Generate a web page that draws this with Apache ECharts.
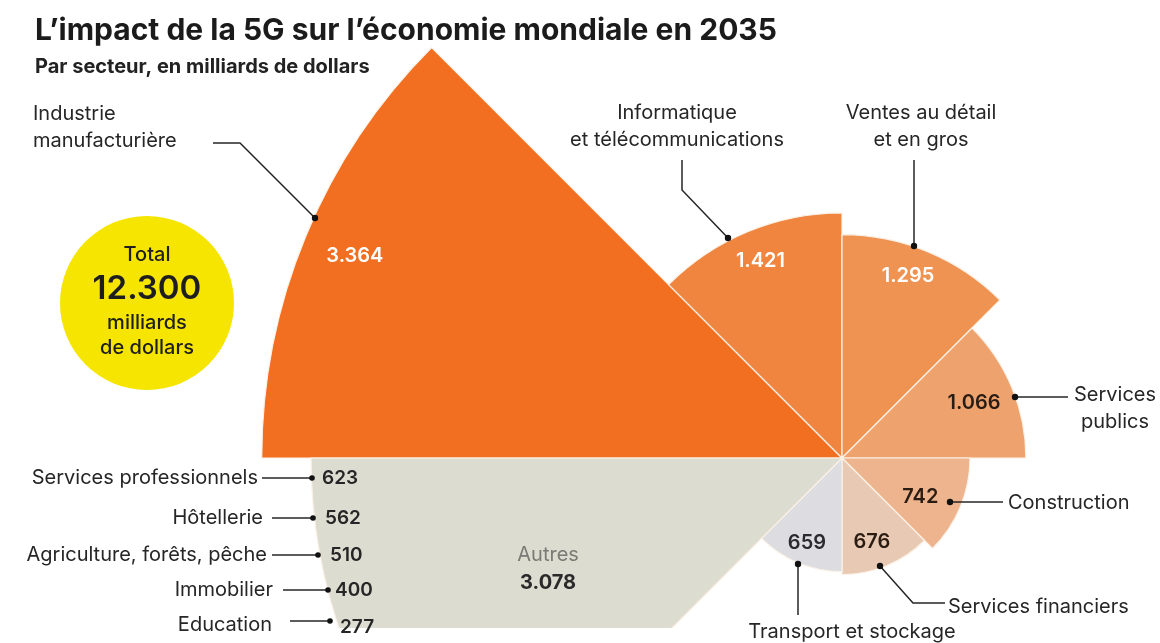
<!DOCTYPE html>
<html><head><meta charset="utf-8">
<script src="https://cdn.jsdelivr.net/npm/echarts@6/dist/echarts.min.js"></script>
<style>html,body{margin:0;padding:0;background:#fff}#c{width:1160px;height:643px}</style>
</head><body><div id="c"></div>
<script>
// ---- data ----
const categories = ['Industrie\nmanufacturière', 'Informatique\net télécommunications', 'Ventes au détail\net en gros', 'Services\npublics', 'Construction', 'Services financiers', 'Transport et stockage', 'Autres'];
const values = [3364, 1421, 1295, 1066, 742, 676, 659, 3078];
const otherCategories = ['Services professionnels', 'Hôtellerie', 'Agriculture, forêts, pêche', 'Immobilier', 'Education'];
const otherValues = [623, 562, 510, 400, 277];
const totalValue = 12300;
const titleText = 'L’impact de la 5G sur l’économie mondiale en 2035';
const subtitleText = 'Par secteur, en milliards de dollars';

// ---- style ----
const FONT = 'Inter, "Open Sans", sans-serif';
const colors = ['#F26F21', '#EF853F', '#EF9352', '#EEA36E', '#EDB48D', '#E8CAB4', '#DCDCE1', '#DDDCD1'];
const labelColors = ['#fff', '#fff', '#fff', '#2a1c12', '#2a1c12', '#2a1c12', '#2a2a30', '#2a2a2a'];
const labelDist = [53, 32, 30, 41, 40, 28, 22, 228];
const labelOffset = [[0, 0], [0, 0], [-8, -3], [0, 0], [-3, 5], [-4, 2], [0, 0], [-14, -6]];
const fmt = v => String(v).replace(/\B(?=(\d{3})+(?!\d))/g, '.');
const center = [842, 458];

// annotation layout (positions only)
const annLayout = [
  {x: 33, y: 127, align: 'left', line: [[213, 143], [240, 143], [315, 218]]},
  {x: 677, y: 126.5, align: 'center', line: [[682, 160], [682, 190], [728, 238]]},
  {x: 921, y: 126.5, align: 'center', line: [[914, 160], [914, 246]]},
  {x: 1115, y: 408.5, align: 'center', line: [[1068, 397], [1015, 397]]},
  {x: 1008, y: 503, align: 'left', line: [[1003, 502], [950, 502]]},
  {x: 948, y: 607, align: 'left', line: [[945, 603], [913, 603], [880, 566]]},
  {x: 852, y: 632, align: 'center', line: [[798, 615], [798, 564]]}
];
const subRows = [
  {y: 478, ty: 478, tr: 258, ls: 262, dot: 312, vx: 322, vy: 478},
  {y: 518, ty: 518, tr: 263, ls: 272, dot: 313, vx: 325, vy: 518},
  {y: 555, ty: 555, tr: 267, ls: 272, dot: 318, vx: 330, vy: 555},
  {y: 590, ty: 590, tr: 273, ls: 283, dot: 328, vx: 335, vy: 590},
  {y: 621, ty: 625, tr: 272, ls: 290, dot: 330, vx: 340, vy: 627}
];

const graphics = [];
// clip rectangle for the bottom of the "Autres" sector
graphics.push({type: 'rect', z: 50, shape: {x: 0, y: 628, width: 760, height: 20}, style: {fill: '#fff'}});
// total bubble
graphics.push({type: 'circle', z: 60, shape: {cx: 147, cy: 303, r: 87}, style: {fill: '#F6E500'}});
const bubbleTexts = [
  {t: 'Total', y: 255, f: '500 20px ' + FONT},
  {t: fmt(totalValue), y: 289, f: '600 33px ' + FONT},
  {t: 'milliards', y: 323, f: '500 20px ' + FONT},
  {t: 'de dollars', y: 348, f: '500 20px ' + FONT}
];
bubbleTexts.forEach(b => graphics.push({type: 'text', z: 61, style: {x: 147, y: b.y, text: b.t, font: b.f, fill: '#1e1e1e', align: 'center', verticalAlign: 'middle'}}));

annLayout.forEach((a, i) => {
  graphics.push({type: 'text', z: 70, style: {x: a.x, y: a.y, text: categories[i], font: '20px ' + FONT, lineHeight: 27, fill: '#262626', align: a.align, verticalAlign: 'middle'}});
  graphics.push({type: 'polyline', z: 70, shape: {points: a.line}, style: {stroke: '#262626', lineWidth: 1.5, fill: null}});
  const d = a.line[a.line.length - 1];
  graphics.push({type: 'circle', z: 71, shape: {cx: d[0], cy: d[1], r: 3.2}, style: {fill: '#111'}});
});

subRows.forEach((r, i) => {
  graphics.push({type: 'text', z: 70, style: {x: r.tr, y: r.ty, text: otherCategories[i], font: '20px ' + FONT, fill: '#262626', align: 'right', verticalAlign: 'middle'}});
  graphics.push({type: 'polyline', z: 70, shape: {points: [[r.ls, r.y], [r.dot, r.y]]}, style: {stroke: '#262626', lineWidth: 1.5, fill: null}});
  graphics.push({type: 'circle', z: 71, shape: {cx: r.dot, cy: r.y, r: 2.8}, style: {fill: '#111'}});
  graphics.push({type: 'text', z: 70, style: {x: r.vx, y: r.vy, text: String(otherValues[i]), font: '600 19px ' + FONT, fill: '#262626', align: 'left', verticalAlign: 'middle'}});
});

const chart = echarts.init(document.getElementById('c'), null, {renderer: 'canvas'});
chart.setOption({
  animation: false,
  backgroundColor: '#fff',
  title: {
    text: titleText, subtext: subtitleText, left: 30, top: 11, itemGap: 11,
    textStyle: {fontFamily: FONT, fontSize: 30, fontWeight: 'bold', color: '#1b1b1b'},
    subtextStyle: {fontFamily: FONT, fontSize: 20, fontWeight: 'bold', color: '#222'}
  },
  polar: {center: center, radius: 690},
  angleAxis: {type: 'category', data: categories, startAngle: 180, clockwise: true, boundaryGap: true, show: false},
  radiusAxis: {type: 'value', min: 0, max: 4000, show: false},
  series: [{
    type: 'bar', coordinateSystem: 'polar', barCategoryGap: '0%', z: 2,
    itemStyle: {borderColor: '#fbf1e6', borderWidth: 1.2},
    label: {
      show: true, position: 'insideEnd', rotate: 0, align: 'center', verticalAlign: 'middle',
      fontFamily: FONT, fontSize: 20, fontWeight: 600,
      formatter: p => p.dataIndex === 7 ? '{n|' + p.name + '}\n{v|' + fmt(p.value) + '}' : fmt(p.value),
      rich: {
        n: {fontFamily: FONT, fontSize: 20, fontWeight: 'normal', color: '#7a7a74', lineHeight: 30, align: 'center'},
        v: {fontFamily: FONT, fontSize: 20, fontWeight: 700, color: '#2a2a2a', lineHeight: 26, align: 'center'}
      }
    },
    data: values.map((v, i) => ({
      value: v,
      itemStyle: {color: colors[i]},
      label: {distance: labelDist[i], color: labelColors[i], offset: labelOffset[i]}
    }))
  }],
  graphic: graphics
});
</script>
</body></html>
